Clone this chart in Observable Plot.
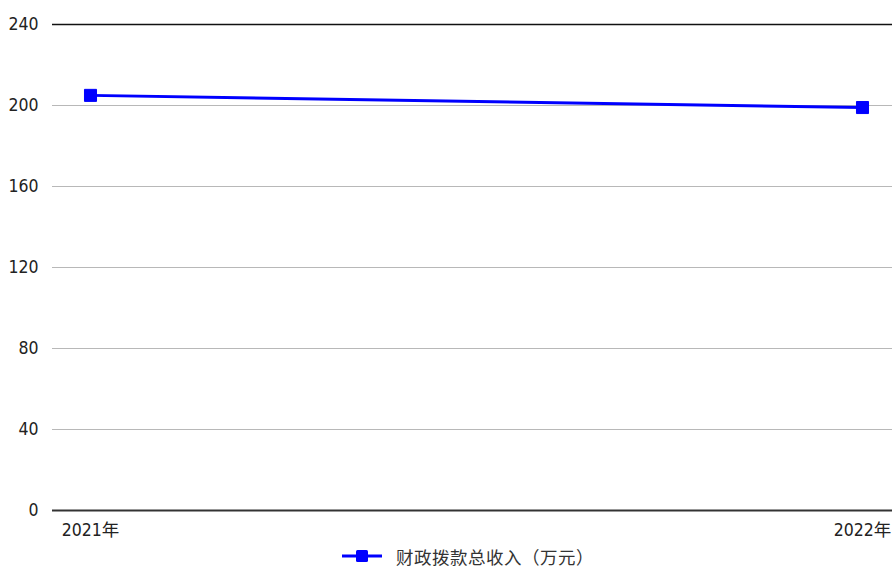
<!DOCTYPE html>
<html>
<head>
<meta charset="utf-8">
<script src="https://cdn.jsdelivr.net/npm/d3@7"></script>
<script src="https://cdn.jsdelivr.net/npm/@observablehq/plot@0.6"></script>
<style>
  html, body { margin: 0; padding: 0; background: #fff; }
  #chart { width: 892px; }
  #chart svg text { font-stretch: condensed; }
  .legend { height: 22px; display: flex; justify-content: center; align-items: center;
    font-family: "DejaVu Sans", "Noto Sans CJK SC", sans-serif; font-stretch: condensed;
    font-size: 17.5px; letter-spacing: 0.5px; color: #333; margin-left: 44px; }
  .legend svg { margin-right: 14px; }
</style>
</head>
<body>
<div id="chart"></div>
<script>
const years = ["2021年", "2022年"];
const values = [205, 199];
const yTicks = [0, 40, 80, 120, 160, 200, 240];
const seriesName = "财政拨款总收入（万元）";

const data = years.map((y, i) => ({year: y, value: values[i]}));
const W = 892, H = 545;
const font = '"DejaVu Sans", "Noto Sans CJK SC", sans-serif';

const plot = Plot.plot({
  width: W,
  height: H,
  marginLeft: 52,
  marginRight: 0,
  marginTop: 24,
  marginBottom: H - 510,
  style: {fontFamily: font, fontSize: "17px", color: "#222", background: "#fff"},
  x: {type: "point", domain: years, range: [90, 862], padding: 0, label: null},
  y: {domain: [0, 240], ticks: yTicks, label: null},
  marks: [
    Plot.ruleY(yTicks.filter(d => d > 0 && d < 240), {stroke: "#b8b8b8", strokeWidth: 1.2}),
    Plot.ruleY([240], {stroke: "#111", strokeWidth: 1.5}),
    Plot.ruleY([0], {stroke: "#333", strokeWidth: 1.8}),
    Plot.axisY({ticks: yTicks, tickSize: 0, tickPadding: 14, label: null, fontSize: 17.5}),
    Plot.axisX({tickSize: 0, tickPadding: 13, label: null, fontSize: 17.5}),
    Plot.line(data, {x: "year", y: "value", stroke: "#0000ff", strokeWidth: 3}),
    Plot.dot(data, {x: "year", y: "value", symbol: "square", r: 6.8, fill: "#0000ff", stroke: "#0000ff", strokeWidth: 1, strokeLinejoin: "round"})
  ]
});
document.getElementById("chart").appendChild(plot);

const legend = document.createElement("div");
legend.className = "legend";
legend.innerHTML = `<svg width="40" height="14"><line x1="0" y1="7" x2="40" y2="7" stroke="#0000ff" stroke-width="3"/><rect x="14" y="1" width="12" height="12" rx="1.5" fill="#0000ff"/></svg><span>${seriesName}</span>`;
document.body.appendChild(legend);
</script>
</body>
</html>
